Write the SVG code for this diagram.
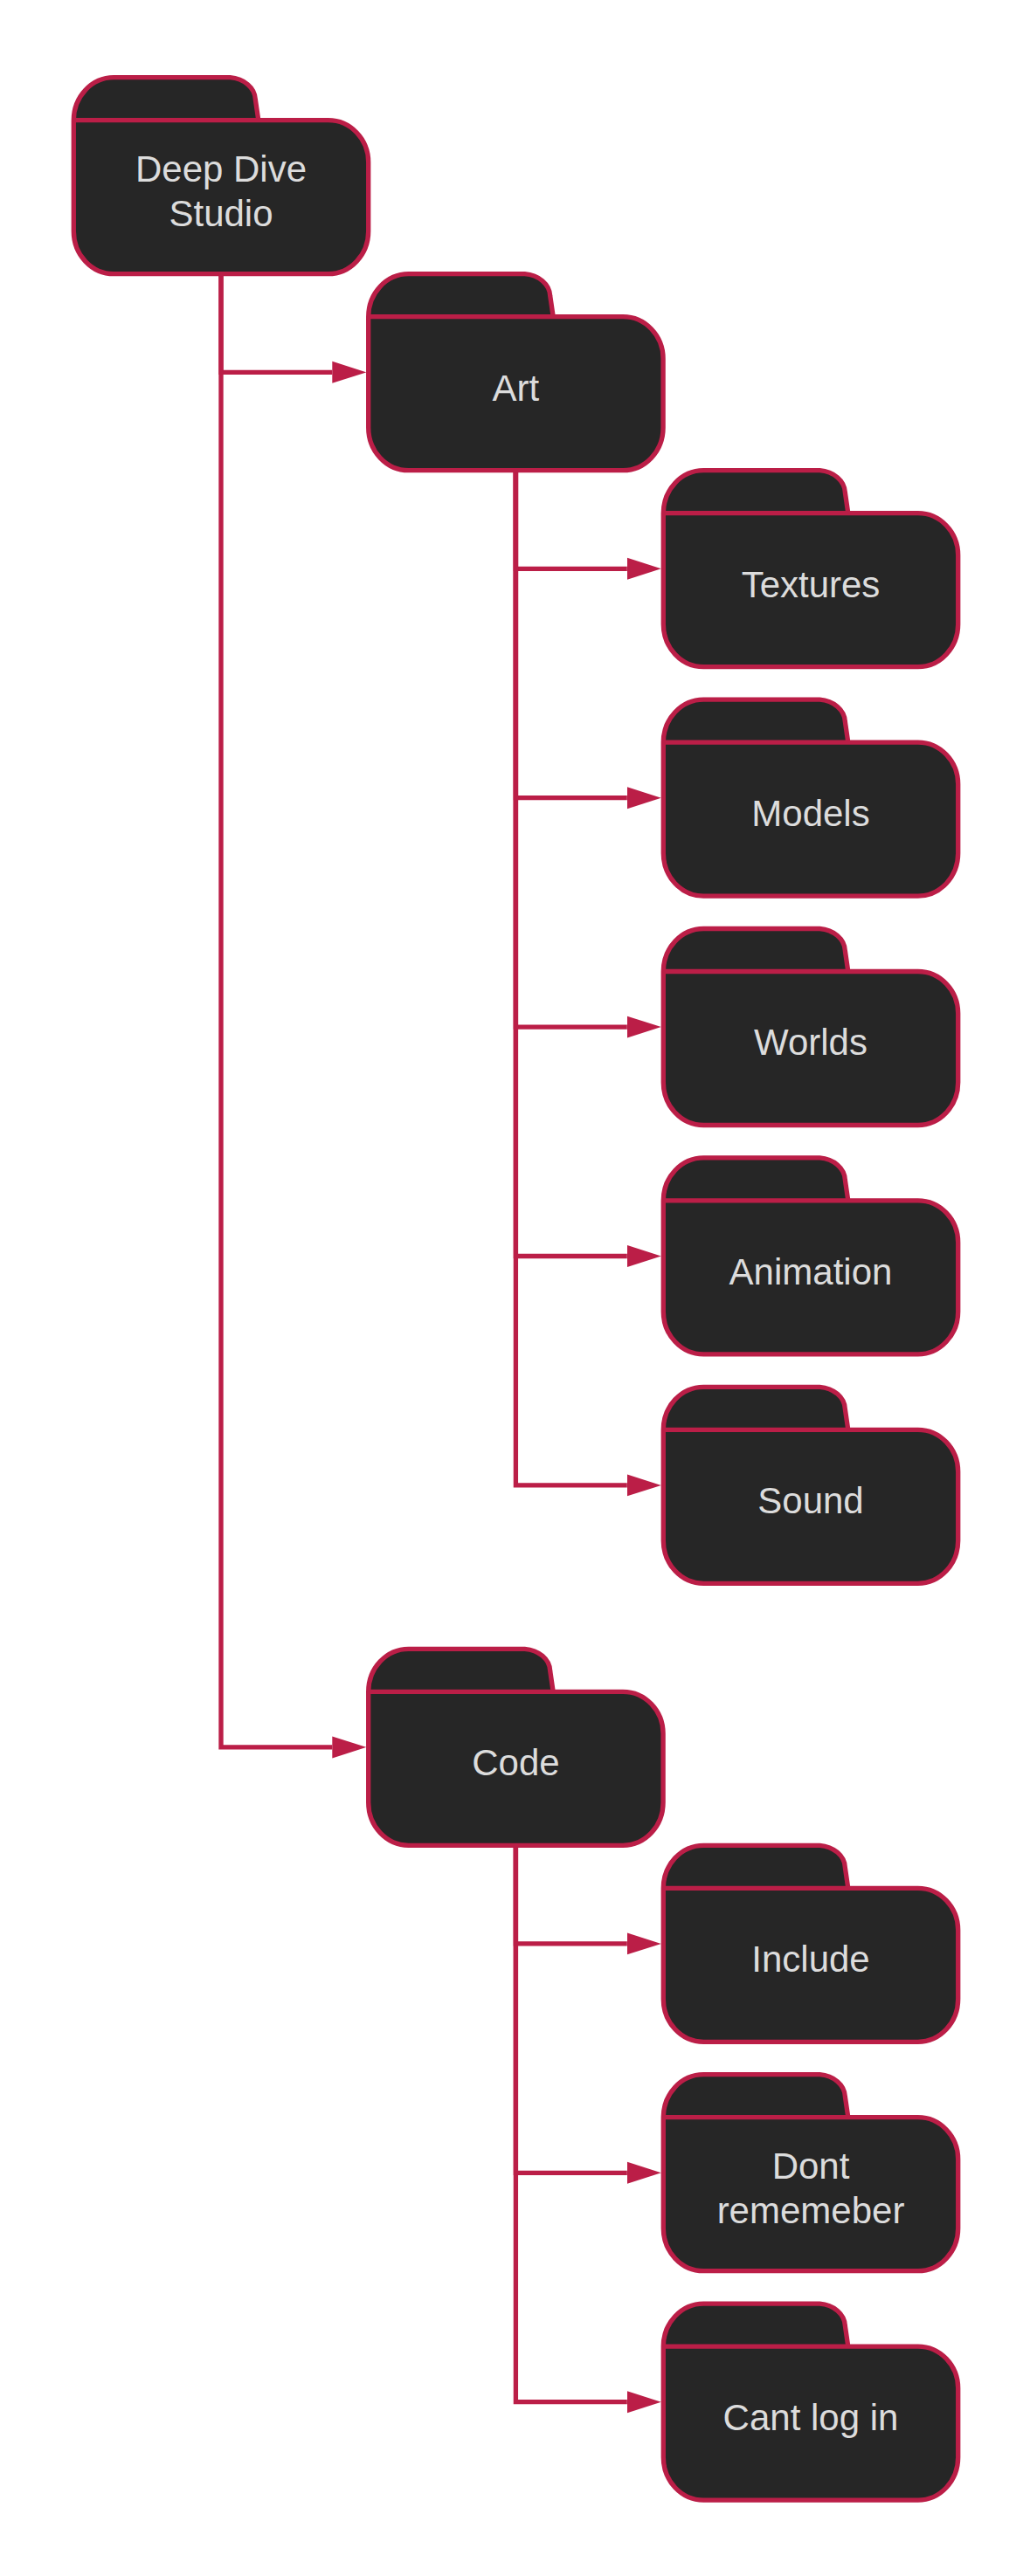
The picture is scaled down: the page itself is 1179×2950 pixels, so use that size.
<svg xmlns="http://www.w3.org/2000/svg" width="1179" height="2950" viewBox="0 0 1179 2950">
<style>
.f{fill:#262626;stroke:#bb1e47;stroke-width:5.33;stroke-linejoin:round}
.t{font-family:"Liberation Sans",Arial,sans-serif;font-size:42px;fill:#dcdcdc;text-anchor:middle}
.c{fill:none;stroke:#bb1e47;stroke-width:5.33}
</style>
<defs>
<marker id="a" markerUnits="userSpaceOnUse" markerWidth="39" markerHeight="26" viewBox="0 0 39 26" refX="0" refY="13" orient="auto"><path d="M0,0.5 L39,13 L0,25.5 Z" fill="#bb1e47"/></marker>
<g id="folder"><path class="f" d="M0,49 A46,49 0 0 1 46,0 H179 A32,26 0 0 1 208,25 L211.5,49 H291.4 A46,48 0 0 1 337.4,97 V176 A46,49 0 0 1 291.4,225 H46 A46,49 0 0 1 0,176 Z M0,49 H291"/></g>
</defs>
<rect width="1179" height="2950" fill="#fff"/>
<g id="connectors">
<path class="c" marker-end="url(#a)" d="M253,313.7 V426.3 H380.3"/>
<path class="c" marker-end="url(#a)" d="M253,313.7 V2000.9 H380.3"/>
<path class="c" marker-end="url(#a)" d="M590.4,538.7 V651.3 H717.8"/>
<path class="c" marker-end="url(#a)" d="M590.4,538.7 V913.7 H717.8"/>
<path class="c" marker-end="url(#a)" d="M590.4,538.7 V1176.1 H717.8"/>
<path class="c" marker-end="url(#a)" d="M590.4,538.7 V1438.5 H717.8"/>
<path class="c" marker-end="url(#a)" d="M590.4,538.7 V1700.9 H717.8"/>
<path class="c" marker-end="url(#a)" d="M590.4,2113.3 V2225.9 H717.8"/>
<path class="c" marker-end="url(#a)" d="M590.4,2113.3 V2488.3 H717.8"/>
<path class="c" marker-end="url(#a)" d="M590.4,2113.3 V2750.7 H717.8"/>
</g>
<g id="deep-dive-studio"><use href="#folder" x="84.3" y="88.7"/><text class="t" x="253" y="208">Deep Dive</text><text class="t" x="253" y="258.6">Studio</text></g>
<g id="art"><use href="#folder" x="421.7" y="313.7"/><text class="t" x="590.4" y="458.5">Art</text></g>
<g id="textures"><use href="#folder" x="759.3" y="538.7"/><text class="t" x="928" y="683.5">Textures</text></g>
<g id="models"><use href="#folder" x="759.3" y="801.1"/><text class="t" x="928" y="945.9">Models</text></g>
<g id="worlds"><use href="#folder" x="759.3" y="1063.5"/><text class="t" x="928" y="1208.3">Worlds</text></g>
<g id="animation"><use href="#folder" x="759.3" y="1325.9"/><text class="t" x="928" y="1470.7">Animation</text></g>
<g id="sound"><use href="#folder" x="759.3" y="1588.3"/><text class="t" x="928" y="1733.1">Sound</text></g>
<g id="code"><use href="#folder" x="421.7" y="1888.3"/><text class="t" x="590.4" y="2033.1">Code</text></g>
<g id="include"><use href="#folder" x="759.3" y="2113.3"/><text class="t" x="928" y="2258.1">Include</text></g>
<g id="dont"><use href="#folder" x="759.3" y="2375.7"/><text class="t" x="928" y="2495">Dont</text><text class="t" x="928" y="2545.6">rememeber</text></g>
<g id="cant"><use href="#folder" x="759.3" y="2638.1"/><text class="t" x="928" y="2782.9">Cant log in</text></g>
</svg>
